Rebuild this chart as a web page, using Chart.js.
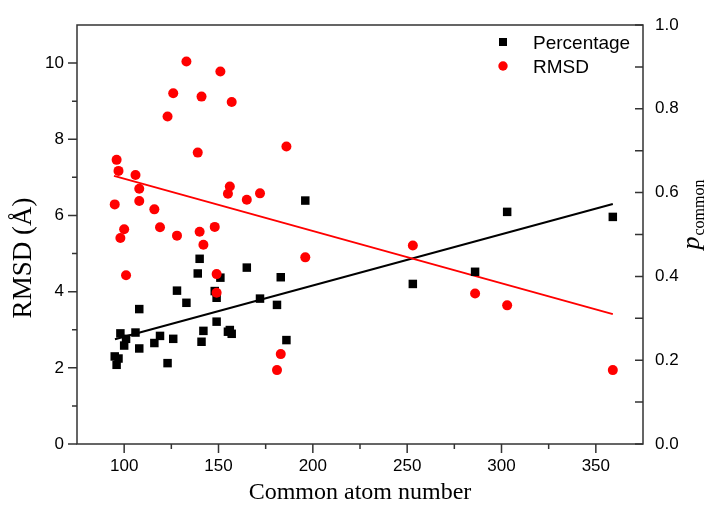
<!DOCTYPE html>
<html><head><meta charset="utf-8">
<script src="https://cdn.jsdelivr.net/npm/chart.js@4.4.1/dist/chart.umd.min.js"></script>
<style>html,body{margin:0;padding:0;background:#fff}#wrap{width:711px;height:505px}</style>
</head><body><div id="wrap"><canvas id="c" width="711" height="505"></canvas></div>
<script>
// ---- data ----
const atomsRmsd = [95,96,97,98,100,101,106,108,108,116,119,123,126,128,133,139,140,141,142,148,149,149,151,155,156,157,165,172,181,183,186,196,253,286,303,359];
const rmsd      = [6.29,7.46,7.17,5.41,5.64,4.43,7.06,6.70,6.38,6.16,5.69,8.60,9.21,5.47,10.04,7.65,5.57,9.12,5.23,5.70,4.46,3.97,9.78,6.57,6.76,8.98,6.41,6.58,1.94,2.36,7.81,4.90,5.21,3.95,3.64,1.94];
const atomsPct  = [95,96,97,98,100,101,106,108,108,116,119,123,126,128,133,139,140,141,142,148,149,149,151,155,156,157,165,172,181,183,186,196,253,286,303,359];
const pct       = [0.209,0.189,0.204,0.264,0.235,0.251,0.266,0.322,0.228,0.241,0.258,0.193,0.251,0.366,0.337,0.407,0.442,0.244,0.270,0.365,0.292,0.349,0.397,0.268,0.272,0.263,0.421,0.347,0.332,0.398,0.248,0.581,0.382,0.411,0.554,0.542];
const fitRmsdX = [94.6, 359];
const fitRmsdY = [7.04, 3.41];
const fitPctX  = [95.1, 359];
const fitPctY  = [0.250, 0.573];
const xTicks  = [100,150,200,250,300,350];
const xMinor  = [125,175,225,275,325];
const yTicks  = [0,2,4,6,8,10];
const yMinor  = [1,3,5,7,9];
const y1Ticks = [0.0,0.2,0.4,0.6,0.8,1.0];
const y1Minor = [0.1,0.3,0.5,0.7,0.9];
const seriesNames = ['Percentage','RMSD'];
const xTitle = 'Common atom number';
const yTitle = 'RMSD (Å)';

const pts = (xs, ys) => xs.map((v,i)=>({x:v, y:ys[i]}));

const decor = {
  id:'decor',
  afterDraw(chart){
    const {ctx, chartArea:a, scales:{x,y,y1}} = chart;
    ctx.save();
    ctx.strokeStyle='#333'; ctx.lineWidth=1.5;
    ctx.strokeRect(a.left, a.top, a.right-a.left, a.bottom-a.top);
    ctx.beginPath();
    xTicks.forEach(v=>{const p=x.getPixelForValue(v); ctx.moveTo(p,a.bottom); ctx.lineTo(p,a.bottom+9);});
    xMinor.forEach(v=>{const p=x.getPixelForValue(v); ctx.moveTo(p,a.bottom); ctx.lineTo(p,a.bottom+5);});
    yTicks.forEach(v=>{const p=y.getPixelForValue(v); ctx.moveTo(a.left,p); ctx.lineTo(a.left-9,p);});
    yMinor.forEach(v=>{const p=y.getPixelForValue(v); ctx.moveTo(a.left,p); ctx.lineTo(a.left-5,p);});
    y1Ticks.concat(y1Minor).forEach(v=>{const p=y1.getPixelForValue(v); ctx.moveTo(a.right,p); ctx.lineTo(a.right-8,p);});
    ctx.stroke();
    // titles
    ctx.fillStyle='#000';
    ctx.font='24px "Liberation Serif"';
    ctx.textAlign='center'; ctx.textBaseline='middle';
    ctx.fillText(xTitle, (a.left+a.right)/2, 493);
    ctx.save(); ctx.translate(24, 258); ctx.rotate(-Math.PI/2);
    ctx.font='27px "Liberation Serif"';
    ctx.fillText(yTitle, 0, 0); ctx.restore();
    // right title p_common
    ctx.save(); ctx.translate(699, 215); ctx.rotate(-Math.PI/2);
    ctx.textAlign='left'; ctx.textBaseline='alphabetic';
    ctx.font='italic 26px "Liberation Serif"';
    const wp = ctx.measureText('p').width;
    ctx.font='16px "Liberation Serif"';
    const wc = ctx.measureText('common').width;
    const s = -(wp+wc)/2;
    ctx.font='italic 26px "Liberation Serif"';
    ctx.fillText('p', s, 0);
    ctx.font='16px "Liberation Serif"';
    ctx.fillText('common', s+wp+1, 5);
    ctx.restore();
    // legend
    ctx.font='19px "Liberation Sans"';
    ctx.textAlign='left'; ctx.textBaseline='alphabetic';
    ctx.fillStyle='#000';
    ctx.fillRect(503-4, 42-4, 8, 8);
    ctx.fillText(seriesNames[0], 533, 48.5);
    ctx.fillStyle='#ff0000';
    ctx.beginPath(); ctx.arc(503, 66, 4.7, 0, Math.PI*2); ctx.fill();
    ctx.fillStyle='#000';
    ctx.fillText(seriesNames[1], 533, 72.5);
    ctx.restore();
  }
};

const tickFont = {family:'"Liberation Sans"', size:17};
new Chart(document.getElementById('c'), {
  type:'scatter',
  data:{datasets:[
    {label:seriesNames[1], data:pts(atomsRmsd, rmsd), yAxisID:'y', pointStyle:'circle', pointRadius:5, pointHoverRadius:5,
     backgroundColor:'#ff0000', borderWidth:0, order:0},
    {label:seriesNames[0], data:pts(atomsPct, pct), yAxisID:'y1', pointStyle:'rect', pointRadius:6, pointHoverRadius:6,
     backgroundColor:'#000000', borderWidth:0, order:1},
    {label:'fitR', data:pts(fitRmsdX, fitRmsdY), yAxisID:'y', showLine:true, pointRadius:0, borderColor:'#ff0000', borderWidth:2, order:2},
    {label:'fitP', data:pts(fitPctX, fitPctY), yAxisID:'y1', showLine:true, pointRadius:0, borderColor:'#000000', borderWidth:2, order:3}
  ]},
  options:{
    responsive:false, animation:false, devicePixelRatio:1,
    layout:{padding:{top:25,left:0,right:0,bottom:0}},
    plugins:{legend:{display:false}, tooltip:{enabled:false}},
    scales:{
      x:{type:'linear', min:75, max:375,
         afterBuildTicks:s=>{s.ticks=xTicks.map(v=>({value:v}));},
         afterFit:s=>{s.height=61;},
         grid:{display:false, drawTicks:false}, border:{display:false},
         ticks:{font:tickFont, color:'#000', padding:12, maxRotation:0, autoSkip:false}},
      y:{type:'linear', position:'left', min:0, max:11,
         afterBuildTicks:s=>{s.ticks=yTicks.map(v=>({value:v}));},
         afterFit:s=>{s.width=77;},
         grid:{display:false, drawTicks:false}, border:{display:false},
         ticks:{font:tickFont, color:'#000', padding:13, autoSkip:false}},
      y1:{type:'linear', position:'right', min:0, max:1,
         afterBuildTicks:s=>{s.ticks=y1Ticks.map(v=>({value:v}));},
         afterFit:s=>{s.width=68;},
         grid:{display:false, drawTicks:false}, border:{display:false},
         ticks:{font:tickFont, color:'#000', padding:12, autoSkip:false, callback:v=>v.toFixed(1)}}
    }
  },
  plugins:[decor]
});
</script></body></html>
